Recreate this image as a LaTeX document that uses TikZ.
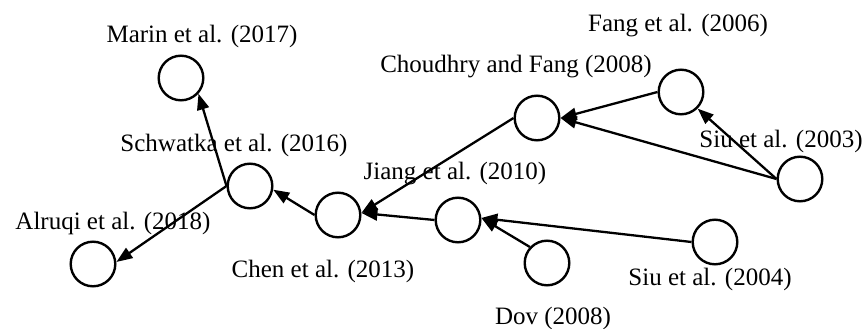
\documentclass[tikz,border=0pt]{standalone}
\usepackage{fontspec}
\setmainfont{Liberation Serif}
\usetikzlibrary{arrows.meta}
\begin{document}
\begin{tikzpicture}[x=1pt,y=-1pt,
  pub/.style={circle,draw=black,line width=2.4pt,minimum size=44.6pt,inner sep=0pt},
  lbl/.style={anchor=base,inner sep=0pt,font=\fontsize{25}{30}\selectfont},
  arr/.style={line width=2.3pt,-{Triangle[length=16pt,width=12pt]}}]
\useasboundingbox (0,0) rectangle (864,329);
\node[pub] (marin) at (181,78) {};
\node[pub] (schw) at (250,186) {};
\node[pub] (alruqi) at (93,264) {};
\node[pub] (chen) at (338,215) {};
\node[pub] (jiang) at (458,220) {};
\node[pub] (chou) at (537,118) {};
\node[pub] (fang) at (681,92) {};
\node[pub] (s03) at (800,179) {};
\node[pub] (dov) at (547,263) {};
\node[pub] (s04) at (715,242) {};
\node[lbl] (lmarin) at (202,43) {Marin et al. (2017)};
\node[lbl] (lschw) at (234,151) {Schwatka et al. (2016)};
\node[lbl] (lalruqi) at (113,229) {Alruqi et al. (2018)};
\node[lbl] (lchen) at (323,277) {Chen et al. (2013)};
\node[lbl] (ljiang) at (455,179) {Jiang et al. (2010)};
\node[lbl] (lchou) at (516,73) {Choudhry and Fang (2008)};
\node[lbl] (lfang) at (678,32) {Fang et al. (2006)};
\node[lbl] (ls03) at (781,147) {Siu et al. (2003)};
\node[lbl] (ls04) at (710,285) {Siu et al. (2004)};
\node[lbl] (ldov) at (553,324) {Dov (2008)};
\draw[arr] (schw.west) -- (marin.-42);
\draw[arr] (schw.west) -- (alruqi.5);
\draw[arr] (chen.west) -- (schw.-9);
\draw[arr] (jiang.west) -- (chen.5);
\draw[arr] (chou.west) -- (chen.5);
\draw[arr] (fang.west) -- (chou.east);
\draw[arr] (s03.west) -- (chou.east);
\draw[arr] (s03.west) -- (fang.-45);
\draw[arr] (dov.137) -- (jiang.5);
\draw[arr] (s04.west) -- (jiang.5);
\end{tikzpicture}
\end{document}
